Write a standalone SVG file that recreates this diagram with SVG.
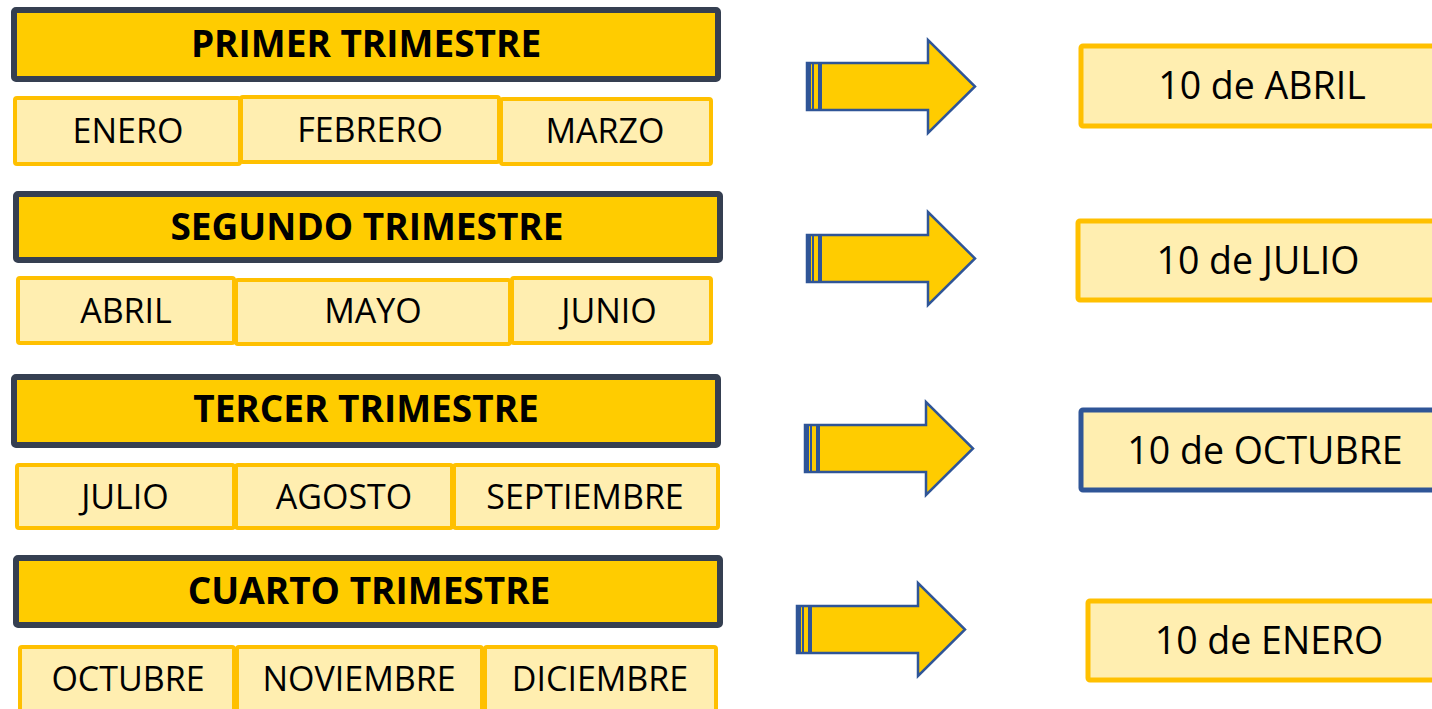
<svg xmlns="http://www.w3.org/2000/svg" width="1432" height="709" viewBox="0 0 1432 709">
<style>
.hdr{fill:#ffcc00;stroke:#353f51;stroke-width:6}
.mon{fill:#ffeeb0;stroke:#ffc000;stroke-width:4}
.date{fill:#ffeeb0;stroke:#ffc000;stroke-width:5}
.dateb{fill:#ffeeb0;stroke:#2f5597;stroke-width:5}
.ht{font-family:"Open Sans","Noto Sans",sans-serif;font-weight:bold;font-size:37px;fill:#000;text-anchor:middle}
.mt{font-family:"Open Sans","Noto Sans",sans-serif;font-size:34px;fill:#000;text-anchor:middle}
.dt{font-family:"Open Sans","Noto Sans",sans-serif;font-size:37.5px;fill:#000;text-anchor:middle}
.arr{fill:#ffcc00;stroke:#2f5597;stroke-width:2.5;stroke-linejoin:miter}
.tail{fill:#2f5597}
</style>
<defs>
<g id="arrow">
<path class="arr" d="M0,23 L121,23 L121,0 L168,46.5 L121,93 L121,70 L0,70 Z"/>
<rect class="tail" x="0" y="23" width="4" height="47"/>
<rect class="tail" x="5" y="23" width="2" height="47"/>
<rect class="tail" x="11" y="23" width="4" height="47"/>
</g>
</defs>

<g id="q1">
<g id="h1"><rect class="hdr" x="14" y="10" width="704" height="69" rx="2"/><text class="ht" x="366" y="57">PRIMER TRIMESTRE</text></g>
<g id="m-enero"><rect class="mon" x="15" y="98" width="225" height="66" rx="2"/><text class="mt" x="128" y="143">ENERO</text></g>
<g id="m-febrero"><rect class="mon" x="241" y="97" width="258" height="65" rx="2"/><text class="mt" x="370" y="142">FEBRERO</text></g>
<g id="m-marzo"><rect class="mon" x="501" y="99" width="210" height="65" rx="2"/><text class="mt" x="605" y="143">MARZO</text></g>
</g>

<g id="q2">
<g id="h2"><rect class="hdr" x="16" y="194" width="704" height="66" rx="2"/><text class="ht" x="367" y="240">SEGUNDO TRIMESTRE</text></g>
<g id="m-abril"><rect class="mon" x="18" y="278" width="216" height="65" rx="2"/><text class="mt" x="126" y="323">ABRIL</text></g>
<g id="m-mayo"><rect class="mon" x="236" y="280" width="274" height="64" rx="2"/><text class="mt" x="373" y="323">MAYO</text></g>
<g id="m-junio"><rect class="mon" x="512" y="278" width="199" height="65" rx="2"/><text class="mt" x="609" y="323">JUNIO</text></g>
</g>

<g id="q3">
<g id="h3"><rect class="hdr" x="14" y="377" width="704" height="68" rx="2"/><text class="ht" x="366" y="422">TERCER TRIMESTRE</text></g>
<g id="m-julio"><rect class="mon" x="17" y="465" width="217" height="63" rx="2"/><text class="mt" x="125" y="509">JULIO</text></g>
<g id="m-agosto"><rect class="mon" x="236" y="465" width="216" height="63" rx="2"/><text class="mt" x="344" y="509">AGOSTO</text></g>
<g id="m-septiembre"><rect class="mon" x="454" y="465" width="264" height="63" rx="2"/><text class="mt" x="585" y="509">SEPTIEMBRE</text></g>
</g>

<g id="q4">
<g id="h4"><rect class="hdr" x="16" y="558" width="704" height="67" rx="2"/><text class="ht" x="369" y="604">CUARTO TRIMESTRE</text></g>
<g id="m-octubre"><rect class="mon" x="20" y="647" width="214" height="66" rx="2"/><text class="mt" x="128" y="691">OCTUBRE</text></g>
<g id="m-noviembre"><rect class="mon" x="237" y="647" width="245" height="66" rx="2"/><text class="mt" x="359" y="691">NOVIEMBRE</text></g>
<g id="m-diciembre"><rect class="mon" x="485" y="647" width="231" height="66" rx="2"/><text class="mt" x="600" y="691">DICIEMBRE</text></g>
</g>

<g id="connectors">
<use href="#arrow" x="807" y="40"/>
<use href="#arrow" x="807" y="212"/>
<use href="#arrow" x="805" y="402"/>
<use href="#arrow" x="797" y="583"/>
</g>

<g id="d1"><rect class="date" x="1081" y="46" width="360" height="80" rx="2"/><text class="dt" x="1262" y="99">10 de ABRIL</text></g>
<g id="d2"><rect class="date" x="1078" y="221" width="360" height="79" rx="2"/><text class="dt" x="1258" y="274">10 de JULIO</text></g>
<g id="d3"><rect class="dateb" x="1081" y="410" width="360" height="80" rx="2"/><text class="dt" x="1265" y="464">10 de OCTUBRE</text></g>
<g id="d4"><rect class="date" x="1088" y="601" width="360" height="79" rx="2"/><text class="dt" x="1269" y="654">10 de ENERO</text></g>
</svg>
